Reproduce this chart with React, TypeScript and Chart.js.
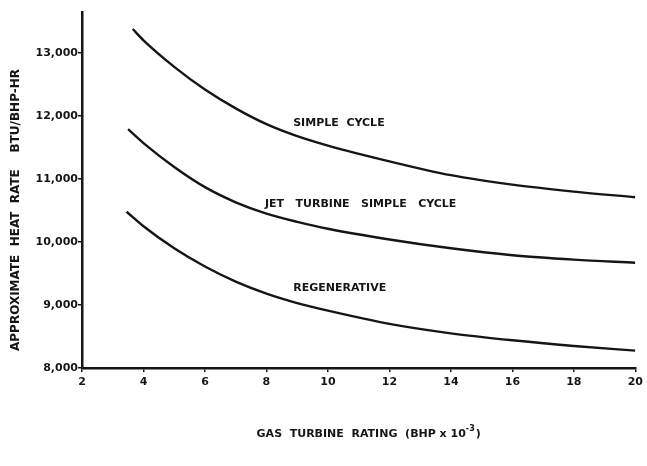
import React, { useEffect, useRef } from "react";
import { Chart, registerables } from "chart.js";

Chart.register(...registerables);

// Gas turbine rating (BHP x 10^-3) and approximate heat rate (BTU/BHP-HR)
const simpleCycleX = [3.65, 4, 5, 6, 7, 8, 9, 10, 12, 14, 16, 18, 20];
const simpleCycleY = [13380, 13200, 12780, 12420, 12120, 11870, 11680, 11530, 11280, 11060, 10910, 10800, 10710];

const jetTurbineX = [3.5, 4, 5, 6, 7, 8, 9, 10, 12, 14, 16, 18, 20];
const jetTurbineY = [11790, 11570, 11190, 10870, 10630, 10450, 10320, 10210, 10040, 9900, 9790, 9720, 9670];

const regenerativeX = [3.45, 4, 5, 6, 7, 8, 9, 10, 12, 14, 16, 18, 20];
const regenerativeY = [10480, 10250, 9900, 9610, 9370, 9180, 9030, 8910, 8700, 8550, 8440, 8350, 8275];

const seriesLabels = ["SIMPLE  CYCLE", "JET   TURBINE   SIMPLE   CYCLE", "REGENERATIVE"];
// label anchor (left edge x, vertical center y) in data units
const labelAnchorX = [8.87, 7.95, 8.87];
const labelAnchorY = [11890, 10600, 9270];

const xTickValues = [2, 4, 6, 8, 10, 12, 14, 16, 18, 20];
const yTickValues = [8000, 9000, 10000, 11000, 12000, 13000];

const yTitle = "APPROXIMATE  HEAT  RATE    BTU/BHP-HR";
const xTitleMain = "GAS  TURBINE  RATING  (BHP x 10";
const xTitleSup = "-3";
const xTitleEnd = ")";

const FONT = "'DejaVu Sans', sans-serif";
const INK = "#151515";

function toPoints(xs: number[], ys: number[]) {
  return xs.map((x, i) => ({ x, y: ys[i] }));
}

const textPlugin = {
  id: "textPlugin",
  afterDatasetsDraw(chart: any) {
    const { ctx, scales, chartArea } = chart;
    const xs = scales.x;
    const ys = scales.y;
    ctx.save();
    ctx.fillStyle = INK;
    ctx.font = `bold 11px ${FONT}`;
    ctx.textBaseline = "middle";
    ctx.textAlign = "left";
    seriesLabels.forEach((t, i) => {
      ctx.fillText(t, xs.getPixelForValue(labelAnchorX[i]), ys.getPixelForValue(labelAnchorY[i]));
    });

    // y title
    ctx.save();
    ctx.translate(16, (chartArea.top + chartArea.bottom) / 2 + 20);
    ctx.rotate(-Math.PI / 2);
    ctx.textAlign = "center";
    ctx.textBaseline = "middle";
    ctx.font = `bold 12px ${FONT}`;
    ctx.fillText(yTitle, 0, 0);
    ctx.restore();

    // x title
    ctx.font = `bold 11px ${FONT}`;
    const wMain = ctx.measureText(xTitleMain).width;
    ctx.font = `bold 8px ${FONT}`;
    const wSup = ctx.measureText(xTitleSup).width;
    ctx.font = `bold 11px ${FONT}`;
    const wEnd = ctx.measureText(xTitleEnd).width;
    const total = wMain + wSup + wEnd + 1;
    const cx = (chartArea.left + chartArea.right) / 2 + 10;
    const y = 434;
    let x0 = cx - total / 2;
    ctx.textAlign = "left";
    ctx.textBaseline = "middle";
    ctx.fillText(xTitleMain, x0, y);
    x0 += wMain;
    ctx.font = `bold 8px ${FONT}`;
    ctx.fillText(xTitleSup, x0, y - 5);
    x0 += wSup + 1;
    ctx.font = `bold 11px ${FONT}`;
    ctx.fillText(xTitleEnd, x0, y);
    ctx.restore();
  },
};

export default function App() {
  const ref = useRef<HTMLCanvasElement | null>(null);

  useEffect(() => {
    if (!ref.current) return;
    const lineStyle = {
      borderColor: INK,
      borderWidth: 2.4,
      pointRadius: 0,
      fill: false,
      cubicInterpolationMode: "monotone" as const,
    };
    const chart = new Chart(ref.current, {
      type: "line",
      data: {
        datasets: [
          { label: seriesLabels[0], data: toPoints(simpleCycleX, simpleCycleY), ...lineStyle },
          { label: seriesLabels[1], data: toPoints(jetTurbineX, jetTurbineY), ...lineStyle },
          { label: seriesLabels[2], data: toPoints(regenerativeX, regenerativeY), ...lineStyle },
        ],
      },
      options: {
        animation: false,
        responsive: false,
        layout: { padding: { top: 12, right: 8, left: 0, bottom: 0 } },
        plugins: { legend: { display: false }, tooltip: { enabled: false } },
        scales: {
          x: {
            type: "linear",
            min: 2,
            max: 20,
            afterFit: (axis: any) => {
              axis.height = 98;
            },
            afterBuildTicks: (axis: any) => {
              axis.ticks = xTickValues.map((v) => ({ value: v }));
            },
            ticks: {
              color: INK,
              font: { family: FONT, size: 11, weight: "bold" },
              padding: 4,
              maxRotation: 0,
              callback: (v: any) => String(v),
            },
            grid: { drawOnChartArea: false, drawTicks: true, tickLength: 4, color: INK, lineWidth: 1.5 },
            border: { color: INK, width: 2.5 },
          },
          y: {
            type: "linear",
            min: 8000,
            max: 13650,
            afterFit: (axis: any) => {
              axis.width = 82;
            },
            afterBuildTicks: (axis: any) => {
              axis.ticks = yTickValues.map((v) => ({ value: v }));
            },
            ticks: {
              color: INK,
              font: { family: FONT, size: 11, weight: "bold" },
              padding: 0,
              callback: (v: any) => Number(v).toLocaleString("en-US"),
            },
            grid: { drawOnChartArea: false, drawTicks: true, tickLength: 4, color: INK, lineWidth: 1.5 },
            border: { color: INK, width: 2.5 },
          },
        },
      },
      plugins: [textPlugin],
    });
    return () => chart.destroy();
  }, []);

  return (
    <div style={{ position: "fixed", left: 0, top: 0, width: 647, height: 466, background: "#fff" }}>
      <canvas ref={ref} width={647} height={466} style={{ display: "block" }} />
    </div>
  );
}
